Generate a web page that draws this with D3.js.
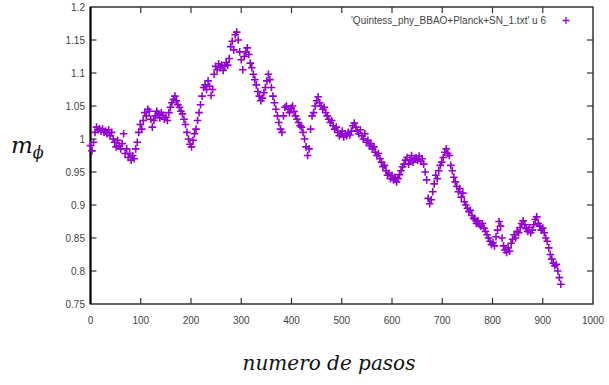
<!DOCTYPE html>
<html>
<head>
<meta charset="utf-8">
<script src="https://cdn.jsdelivr.net/npm/d3@7"></script>
<style>
  body { margin: 0; background: #fff; }
  svg { display: block; }
</style>
</head>
<body>
<div id="chart"></div>
<script>
// m_phi, one value every 3 steps (0 .. 936)
const pasos = d3.range(0, 939, 3);
const mphi = [
  0.990, 0.982, 0.995, 1.010, 1.018, 1.014, 1.016, 1.012, 1.015, 1.010,
  1.012, 1.008, 1.014, 1.005, 1.010, 1.000, 0.995, 0.988, 0.998, 0.990,
  0.985, 0.993, 1.008, 0.978, 0.985, 0.972, 0.978, 0.968, 0.975, 0.970,
  0.985, 0.995, 1.010, 1.022, 1.015, 1.028, 1.040, 1.035, 1.045, 1.042,
  1.030, 1.018, 1.028, 1.035, 1.042, 1.038, 1.032, 1.040, 1.036, 1.030,
  1.033, 1.028, 1.040, 1.048, 1.055, 1.060, 1.065, 1.058, 1.052, 1.048,
  1.042, 1.038, 1.030, 1.022, 1.010, 1.000, 0.992, 0.988, 0.998, 1.008,
  1.015, 1.028, 1.040, 1.052, 1.065, 1.078, 1.082, 1.075, 1.088, 1.080,
  1.066, 1.075, 1.098, 1.110, 1.105, 1.114, 1.108, 1.112, 1.104, 1.110,
  1.116, 1.112, 1.122, 1.140, 1.148, 1.135, 1.158, 1.162, 1.150, 1.132,
  1.120, 1.105, 1.125, 1.132, 1.138, 1.128, 1.115, 1.108, 1.098, 1.090,
  1.082, 1.072, 1.065, 1.058, 1.062, 1.070, 1.078, 1.088, 1.098, 1.090,
  1.078, 1.065, 1.055, 1.045, 1.035, 1.025, 1.015, 1.010, 1.035, 1.048,
  1.050, 1.045, 1.040, 1.047, 1.050, 1.042, 1.035, 1.030, 1.025, 1.020,
  1.018, 1.010, 1.000, 0.988, 0.975, 0.985, 1.015, 1.035, 1.040, 1.050,
  1.058, 1.064, 1.055, 1.050, 1.045, 1.048, 1.040, 1.035, 1.030, 1.025,
  1.028, 1.020, 1.015, 1.018, 1.010, 1.005, 1.008, 1.012, 1.003, 1.008,
  1.005, 1.010, 1.006, 1.012, 1.020, 1.024, 1.018, 1.012, 1.008, 1.014,
  1.005, 1.000, 1.008, 0.995, 0.998, 0.990, 0.993, 0.985, 0.988, 0.980,
  0.975, 0.978, 0.970, 0.965, 0.958, 0.960, 0.952, 0.945, 0.948, 0.940,
  0.945, 0.938, 0.942, 0.935, 0.940, 0.946, 0.952, 0.958, 0.962, 0.968,
  0.972, 0.962, 0.968, 0.975, 0.965, 0.970, 0.972, 0.968, 0.974, 0.966,
  0.970, 0.962, 0.950, 0.938, 0.910, 0.902, 0.908, 0.920, 0.932, 0.945,
  0.940, 0.952, 0.960, 0.965, 0.972, 0.980, 0.985, 0.978, 0.975, 0.960,
  0.952, 0.942, 0.935, 0.928, 0.920, 0.925, 0.912, 0.918, 0.905, 0.900,
  0.895, 0.890, 0.892, 0.884, 0.880, 0.878, 0.872, 0.876, 0.870, 0.868,
  0.872, 0.865, 0.860, 0.855, 0.850, 0.845, 0.840, 0.843, 0.838, 0.852,
  0.862, 0.875, 0.868, 0.850, 0.838, 0.832, 0.828, 0.835, 0.830, 0.842,
  0.848, 0.855, 0.850, 0.860, 0.858, 0.866, 0.872, 0.876, 0.870, 0.864,
  0.860, 0.866, 0.858, 0.862, 0.870, 0.878, 0.882, 0.872, 0.868, 0.862,
  0.865, 0.858, 0.850, 0.845, 0.835, 0.825, 0.818, 0.812, 0.808, 0.810,
  0.800, 0.790, 0.780
];
const xTicks = [0, 100, 200, 300, 400, 500, 600, 700, 800, 900, 1000];
const yTicks = [0.75, 0.8, 0.85, 0.9, 0.95, 1, 1.05, 1.1, 1.15, 1.2];
const legendLabel = "'Quintess_phy_BBAO+Planck+SN_1.txt' u 6";

const W = 609, H = 385;
const plotLeft = 90.5, plotRight = 593, plotTop = 7, plotBottom = 304;
const PURPLE = "#9400d3";
const TICK = 6;

const x = d3.scaleLinear().domain([0, 1000]).range([plotLeft, plotRight]);
const y = d3.scaleLinear().domain([0.75, 1.2]).range([plotBottom, plotTop]);

const svg = d3.select("#chart").append("svg")
    .attr("width", W)
    .attr("height", H);

const data = pasos.map((p, i) => ({ paso: p, m: mphi[i] })).filter(d => d.m !== undefined);

// ticks (gnuplot style, inward and mirrored)
const ticks = svg.append("g").attr("stroke", "#333").attr("stroke-width", 1.2);
xTicks.slice(1, -1).forEach(t => {
    ticks.append("line").attr("x1", x(t)).attr("x2", x(t)).attr("y1", plotBottom).attr("y2", plotBottom - TICK);
    ticks.append("line").attr("x1", x(t)).attr("x2", x(t)).attr("y1", plotTop).attr("y2", plotTop + TICK);
});
yTicks.slice(1, -1).forEach(t => {
    ticks.append("line").attr("x1", plotLeft).attr("x2", plotLeft + TICK).attr("y1", y(t)).attr("y2", y(t));
    ticks.append("line").attr("x1", plotRight).attr("x2", plotRight - TICK).attr("y1", y(t)).attr("y2", y(t));
});

// border
svg.append("rect")
    .attr("x", plotLeft).attr("y", plotTop)
    .attr("width", plotRight - plotLeft).attr("height", plotBottom - plotTop)
    .attr("fill", "none")
    .attr("stroke", "#333")
    .attr("stroke-width", 1.5);
svg.append("line")
    .attr("x1", plotLeft).attr("x2", plotLeft).attr("y1", plotTop).attr("y2", plotBottom)
    .attr("stroke", "#000").attr("stroke-width", 2);

// tick labels
const labelFont = "'Liberation Sans', Arial, sans-serif";
svg.append("g").selectAll("text")
    .data(xTicks)
    .enter().append("text")
    .attr("x", d => x(d))
    .attr("y", 324)
    .attr("text-anchor", "middle")
    .attr("font-family", labelFont)
    .attr("font-size", 10)
    .attr("fill", "#444")
    .text(d => d);

svg.append("g").selectAll("text")
    .data(yTicks)
    .enter().append("text")
    .attr("x", 85)
    .attr("y", d => y(d) + 3.5)
    .attr("text-anchor", "end")
    .attr("font-family", labelFont)
    .attr("font-size", 10)
    .attr("fill", "#444")
    .text(d => d3.format("")(d));

// points as "+" markers
const plus = (cx, cy, s) => `M${cx - s},${cy}H${cx + s}M${cx},${cy - s}V${cy + s}`;
svg.append("g").selectAll("path")
    .data(data)
    .enter().append("path")
    .attr("d", d => plus(x(d.paso), y(d.m), 3.8))
    .attr("stroke", PURPLE)
    .attr("stroke-width", 1.6)
    .attr("fill", "none");

// legend
svg.append("text")
    .attr("x", 546)
    .attr("y", 24)
    .attr("text-anchor", "end")
    .attr("font-family", labelFont)
    .attr("font-size", 10)
    .attr("fill", "#444")
    .text(legendLabel);
svg.append("path")
    .attr("d", plus(566, 20.5, 3.5))
    .attr("stroke", PURPLE)
    .attr("stroke-width", 1.3);

// axis titles
svg.append("text")
    .attr("x", 11)
    .attr("y", 153)
    .attr("font-family", "'DejaVu Serif', serif")
    .attr("font-style", "italic")
    .attr("font-size", 23)
    .attr("fill", "#111")
    .text("m")
    .append("tspan")
    .attr("dy", 5)
    .attr("font-size", 16)
    .text("\u03d5");

svg.append("text")
    .attr("x", 329)
    .attr("y", 370)
    .attr("text-anchor", "middle")
    .attr("font-family", "'DejaVu Serif', serif")
    .attr("font-style", "italic")
    .attr("font-size", 20)
    .attr("fill", "#111")
    .text("numero de pasos");
</script>
</body>
</html>
